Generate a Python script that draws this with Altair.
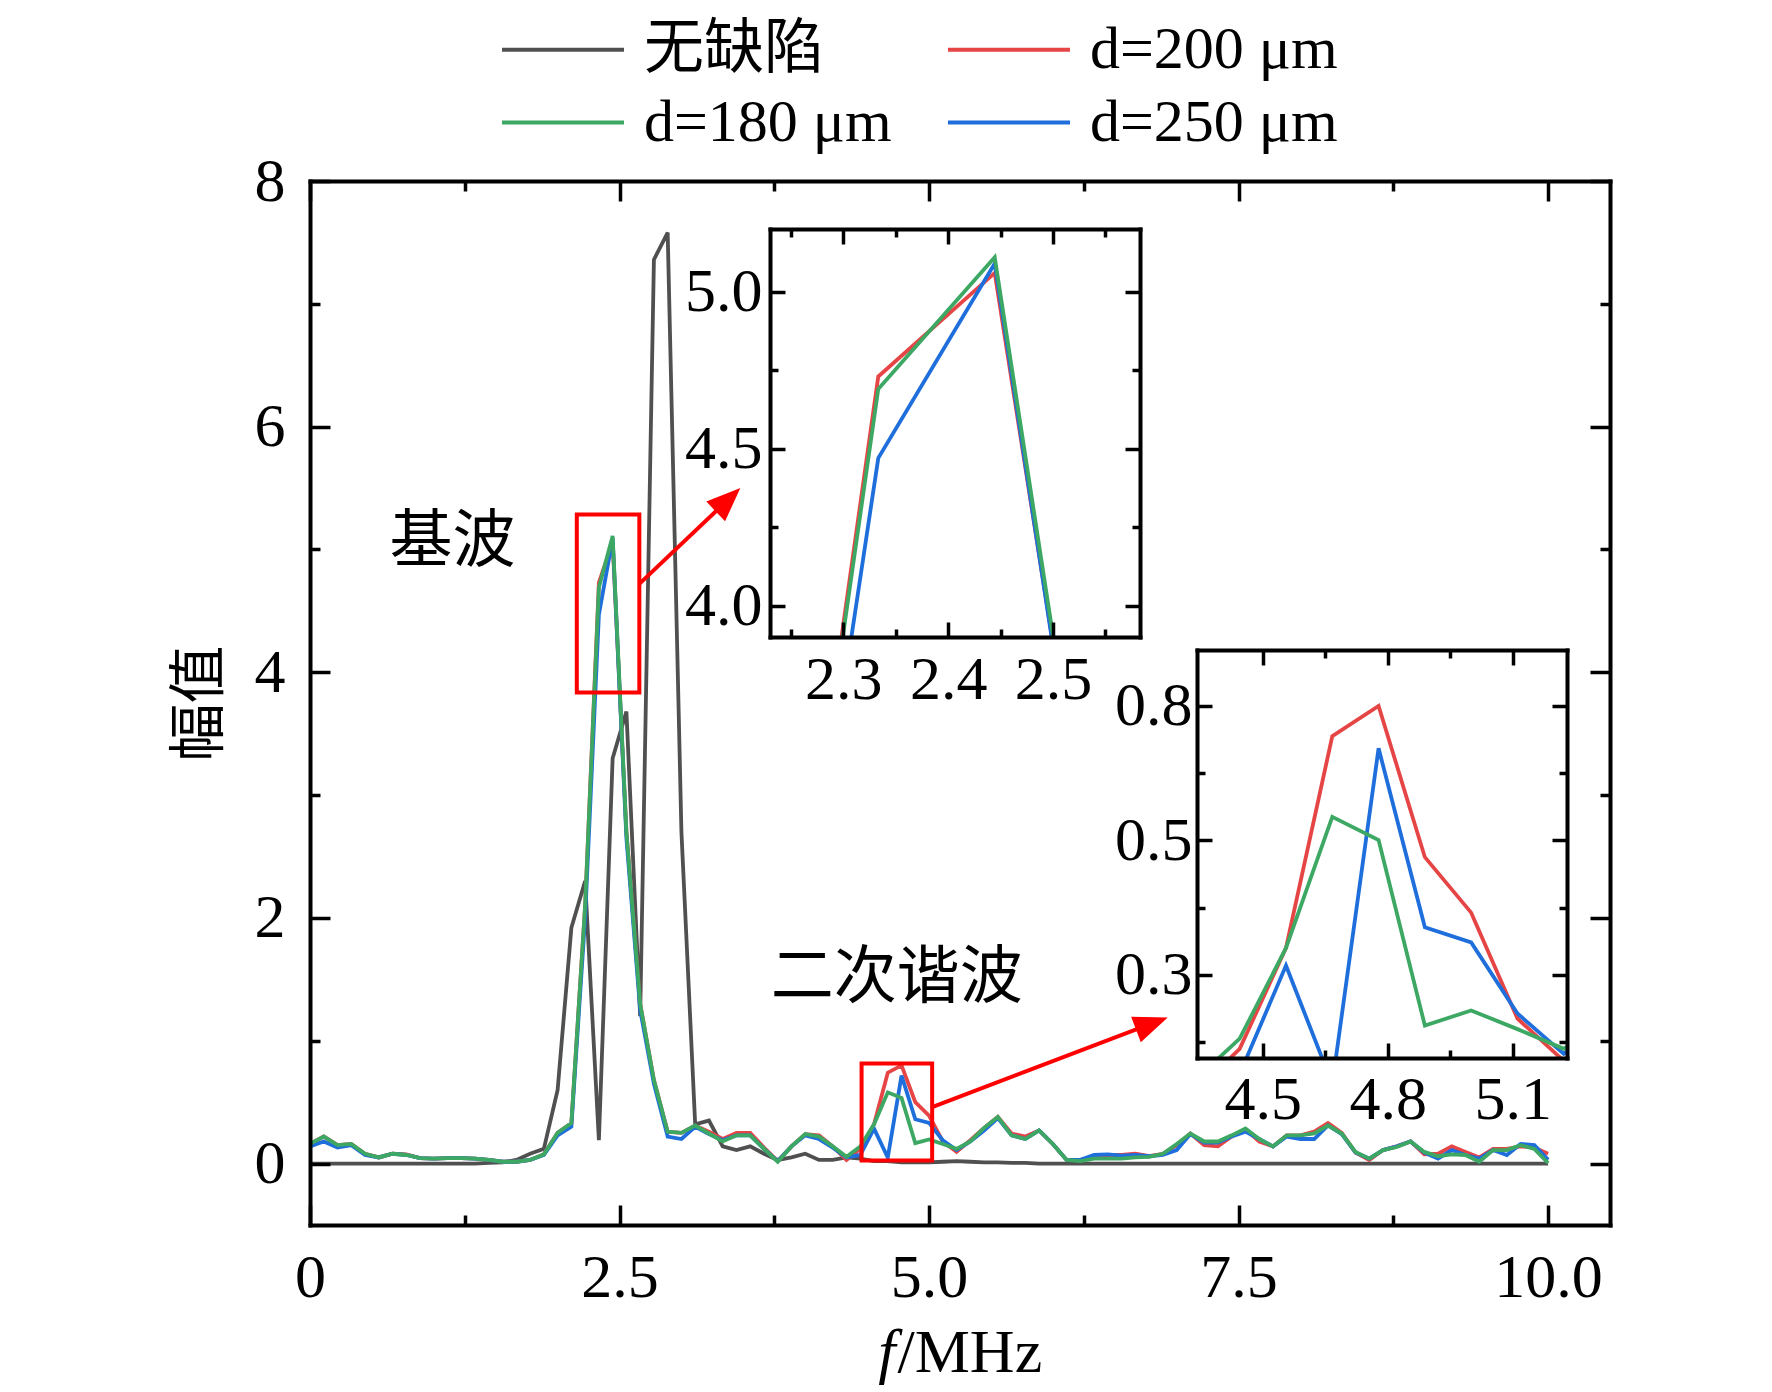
import math
import altair as alt
import pandas as pd

# ---------------- data ----------------
SERIES = ["无缺陷", "d=180 μm", "d=200 μm", "d=250 μm"]
COLORS = ["#505050", "#3DA864", "#E64545", "#1E6EDC"]

freq = [round(k / 9, 4) for k in range(91)]  # sample grid (MHz)

amp_none = [
    0, 0, 0, 0, 0, 0, 0, 0, 0, 0,
    0, 0, 0, 0.005, 0.01, 0.03, 0.08, 0.12, 0.6, 1.92,
    2.3, 0.19, 3.3, 3.68, 1.2, 7.36, 7.58, 2.7, 0.32, 0.35,
    0.14, 0.11, 0.14, 0.08, 0.03, 0.05, 0.08, 0.03, 0.03, 0.05,
    0.04, 0.02, 0.02, 0.01, 0.01, 0.01, 0.015, 0.02, 0.015, 0.01,
    0.01, 0.005, 0.005, 0, 0, 0, 0, 0, 0, 0,
    0, 0, 0, 0, 0, 0, 0, 0, 0, 0,
    0, 0, 0, 0, 0, 0, 0, 0, 0, 0,
    0, 0, 0, 0, 0, 0, 0, 0, 0, 0,
    0]
amp_200 = [
    0.16, 0.22, 0.15, 0.16, 0.08, 0.05, 0.08, 0.075, 0.045, 0.04,
    0.045, 0.045, 0.04, 0.03, 0.015, 0.015, 0.03, 0.075, 0.25, 0.33,
    2.1, 4.73, 5.06, 2.7, 1.3, 0.68, 0.26, 0.25, 0.31, 0.26,
    0.2, 0.25, 0.25, 0.13, 0.02, 0.14, 0.24, 0.23, 0.14, 0.03,
    0.12, 0.32, 0.74, 0.80, 0.50, 0.39, 0.18, 0.096, 0.19, 0.29,
    0.38, 0.245, 0.22, 0.27, 0.16, 0.03, 0.03, 0.05, 0.07, 0.07,
    0.08, 0.06, 0.08, 0.15, 0.245, 0.15, 0.14, 0.22, 0.28, 0.18,
    0.14, 0.23, 0.23, 0.26, 0.33, 0.25, 0.09, 0.03, 0.11, 0.14,
    0.18, 0.075, 0.08, 0.14, 0.095, 0.05, 0.12, 0.12, 0.14, 0.13,
    0.08]
amp_180 = [
    0.16, 0.22, 0.15, 0.16, 0.08, 0.05, 0.08, 0.07, 0.045, 0.04,
    0.045, 0.045, 0.04, 0.03, 0.015, 0.015, 0.03, 0.075, 0.25, 0.33,
    2.1, 4.69, 5.11, 2.7, 1.3, 0.68, 0.26, 0.25, 0.31, 0.245,
    0.18, 0.23, 0.23, 0.12, 0.015, 0.14, 0.24, 0.22, 0.14, 0.055,
    0.14, 0.32, 0.58, 0.534, 0.166, 0.196, 0.159, 0.12, 0.18, 0.29,
    0.38, 0.23, 0.2, 0.27, 0.16, 0.03, 0.02, 0.04, 0.04, 0.04,
    0.05, 0.055, 0.08, 0.16, 0.245, 0.18, 0.18, 0.23, 0.285, 0.2,
    0.14, 0.23, 0.23, 0.245, 0.31, 0.245, 0.095, 0.04, 0.11, 0.135,
    0.18, 0.095, 0.06, 0.075, 0.07, 0.015, 0.11, 0.11, 0.15, 0.12,
    0.005]
amp_250 = [
    0.14, 0.18, 0.13, 0.15, 0.07, 0.05, 0.08, 0.07, 0.045, 0.04,
    0.045, 0.045, 0.04, 0.03, 0.015, 0.015, 0.03, 0.07, 0.23, 0.30,
    2.0, 4.47, 5.09, 2.65, 1.25, 0.65, 0.22, 0.2, 0.3, 0.24,
    0.19, 0.23, 0.23, 0.12, 0.02, 0.14, 0.23, 0.2, 0.13, 0.05,
    0.07, 0.285, 0.05, 0.716, 0.361, 0.331, 0.19, 0.11, 0.18, 0.27,
    0.37, 0.23, 0.2, 0.27, 0.16, 0.03, 0.03, 0.07, 0.075, 0.065,
    0.07, 0.06, 0.07, 0.11, 0.24, 0.17, 0.17, 0.22, 0.26, 0.2,
    0.14, 0.22, 0.2, 0.2, 0.31, 0.24, 0.09, 0.04, 0.11, 0.14,
    0.18, 0.09, 0.04, 0.11, 0.07, 0.04, 0.11, 0.07, 0.16, 0.15,
    0.03]

# annotations (main-plot data coordinates)
ann_text = ["基波", "二次谐波"]
ann_x = [1.15, 4.74]
ann_y = [5.06, 1.515]
box_x = [2.155, 4.455]
box_x2 = [2.66, 5.025]
box_y = [3.835, 0.025]
box_y2 = [5.285, 0.815]
arrow_x = [2.66, 5.025]
arrow_y = [4.72, 0.46]
arrow_tip_x = [3.476, 6.928]
arrow_tip_y = [5.50, 1.19]

# ---------------- layout / style ----------------
W, H = 1300, 1044
SERIF = "Liberation Serif"
CJK = "Noto Sans CJK SC"
MIXED = "'Liberation Serif', 'Noto Sans CJK SC', serif"
RED = "#FF0000"
LW = 3.8

MAIN = dict(xdom=[0, 10.5], ydom=[-0.5, 8], L=0, T=0, R=W, B=H,
            xmaj=[0, 2.5, 5, 7.5, 10], xmin=[1.25, 3.75, 6.25, 8.75],
            ymaj=[0, 2, 4, 6, 8], ymin=[1, 3, 5, 7], tmaj=20, tmin=10,
            xpad=22, ypad=25)
INS1 = dict(xdom=[2.23, 2.583], ydom=[3.9, 5.2], L=460, T=48, R=830, B=456,
            xmaj=[2.3, 2.4, 2.5], xmin=[2.25, 2.35, 2.45, 2.55],
            ymaj=[4.0, 4.5, 5.0], ymin=[4.25, 4.75], tmaj=15, tmin=8,
            xpad=12, ypad=8)
INS2 = dict(xdom=[4.342, 5.23], ydom=[0.1017, 0.911], L=887, T=469, R=1257, B=877,
            xmaj=[4.5, 4.8, 5.1], xmin=[4.65, 4.95],
            ymaj=[0.8, 0.5333, 0.2667], ymin=[0.6667, 0.4, 0.1333], tmaj=15, tmin=8,
            xpad=11, ypad=5)


def sx(fr):
    return alt.Scale(domain=fr["xdom"], range=[fr["L"], fr["R"]], nice=False, zero=False)


def sy(fr):
    return alt.Scale(domain=fr["ydom"], range=[fr["B"], fr["T"]], nice=False, zero=False)


BASE = dict(grid=False, labelFlush=False, labelOverlap=False, domainColor="black",
            tickColor="black", labelColor="black", labelFont=SERIF, labelFontSize=62,
            zindex=3, tickWidth=3.5, domainWidth=4, domainCap="square")


def ax(**kw):
    d = dict(BASE)
    d.update(kw)
    if "title" not in d:
        d["title"] = None
    return alt.Axis(**d)


def frame_layers(fr, xlabel_kw, ylabel_kw, xtick_kw=None):
    xtick_kw = xtick_kw or {}
    xa = [
        ax(orient="bottom", offset=fr["B"] - H, values=fr["xmaj"], ticks=False, tickSize=0,
           domain=True, labels=True, labelPadding=fr["xpad"], **xlabel_kw),
        ax(orient="top", offset=-fr["B"], values=fr["xmaj"], tickSize=fr["tmaj"],
           domain=False, labels=False, **xtick_kw),
        ax(orient="top", offset=-fr["B"], values=fr["xmin"], tickSize=fr["tmin"],
           domain=False, labels=False),
        ax(orient="bottom", offset=fr["T"] - H, values=fr["xmaj"], tickSize=fr["tmaj"],
           domain=True, labels=False),
        ax(orient="bottom", offset=fr["T"] - H, values=fr["xmin"], tickSize=fr["tmin"],
           domain=False, labels=False),
    ]
    ya = [
        ax(orient="left", offset=-fr["L"], values=fr["ymaj"], ticks=False, tickSize=0,
           domain=True, labels=True, labelPadding=fr["ypad"], **ylabel_kw),
        ax(orient="right", offset=fr["L"] - W, values=fr["ymaj"], tickSize=fr["tmaj"],
           domain=False, labels=False),
        ax(orient="right", offset=fr["L"] - W, values=fr["ymin"], tickSize=fr["tmin"],
           domain=False, labels=False),
        ax(orient="left", offset=-fr["R"], values=fr["ymaj"], tickSize=fr["tmaj"],
           domain=True, labels=False),
        ax(orient="left", offset=-fr["R"], values=fr["ymin"], tickSize=fr["tmin"],
           domain=False, labels=False),
    ]
    dummy = pd.DataFrame({"x": fr["xdom"], "y": fr["ydom"]})
    out = []
    for a, b in zip(xa, ya):
        out.append(alt.Chart(dummy).mark_point(opacity=0).encode(
            x=alt.X("x:Q", scale=sx(fr), axis=a),
            y=alt.Y("y:Q", scale=sy(fr), axis=b)))
    return out


layers = []

# main frame + axes
layers += frame_layers(
    MAIN,
    dict(labelExpr="datum.value == 0 ? '0' : format(datum.value, '.1f')",
         title="/MHz", titleX=587, titleY=146, titleAlign="left", titleBaseline="alphabetic",
         titleFont=SERIF, titleFontSize=62, titleFontWeight="normal", titleColor="black"),
    dict(format="d", title="幅值", titleX=-110, titleY=H / 2, titleAngle=270,
         titleAlign="center", titleBaseline="middle", titleFont=CJK, titleFontSize=58,
         titleFontWeight="normal", titleColor="black"),
    dict(title="f", titleX=585, titleY=146, titleAlign="right", titleBaseline="alphabetic",
         titleFont=SERIF, titleFontSize=62, titleFontStyle="italic", titleFontWeight="normal",
         titleColor="black"),
)
layers += frame_layers(INS1, dict(format=".1f"), dict(format=".1f"))
layers += frame_layers(INS2, dict(format=".1f"), dict(format=".1f"))

series_vals = {
    "无缺陷": amp_none, "d=200 μm": amp_200, "d=180 μm": amp_180, "d=250 μm": amp_250,
}
draw_order = ["无缺陷", "d=200 μm", "d=250 μm", "d=180 μm"]
color_of = dict(zip(SERIES, COLORS))

# legend symbol: a 122-px line drawn as a custom path (size 3721 -> r = 30.5)
legend = alt.Legend(title=None, orient="none", legendX=190, legendY=-164, columns=2,
                    symbolType="M-1,0H3", symbolSize=3721, symbolStrokeWidth=LW,
                    labelFont=MIXED, labelFontSize=60, labelColor="black", labelOffset=79,
                    columnPadding=48, rowPadding=10, padding=0, labelLimit=1000)

for s in draw_order:
    df = pd.DataFrame({"f": freq, "v": series_vals[s], "series": s})
    layers.append(alt.Chart(df).mark_line(strokeWidth=LW).encode(
        x=alt.X("f:Q", scale=sx(MAIN), axis=None),
        y=alt.Y("v:Q", scale=sy(MAIN), axis=None),
        color=alt.Color("series:N", scale=alt.Scale(domain=SERIES, range=COLORS), legend=legend)))

# insets
for fr in (INS1, INS2):
    clip_path = "M{L},{T}H{R}V{B}H{L}Z".format(**fr)
    for s in draw_order:
        df = pd.DataFrame({"f": freq, "v": series_vals[s]})
        layers.append(alt.Chart(df).mark_line(
            strokeWidth=LW, color=color_of[s],
            clip=alt.ExprRef(expr="pathShape('%s')" % clip_path)).encode(
            x=alt.X("f:Q", scale=sx(fr), axis=None),
            y=alt.Y("v:Q", scale=sy(fr), axis=None)))

# red boxes
boxes = pd.DataFrame({"x": box_x, "x2": box_x2, "y": box_y, "y2": box_y2})
layers.append(alt.Chart(boxes).mark_rect(fillOpacity=0, stroke=RED, strokeWidth=4).encode(
    x=alt.X("x:Q", scale=sx(MAIN), axis=None), x2="x2:Q",
    y=alt.Y("y:Q", scale=sy(MAIN), axis=None), y2="y2:Q"))

# arrows
pxu_x = (MAIN["R"] - MAIN["L"]) / (MAIN["xdom"][1] - MAIN["xdom"][0])
pxu_y = (MAIN["B"] - MAIN["T"]) / (MAIN["ydom"][1] - MAIN["ydom"][0])
ends_x, ends_y, angs = [], [], []
for x0, y0, x1, y1 in zip(arrow_x, arrow_y, arrow_tip_x, arrow_tip_y):
    dxp = (x1 - x0) * pxu_x
    dyp = -(y1 - y0) * pxu_y
    L = math.hypot(dxp, dyp)
    ux, uy = dxp / L, dyp / L
    back = 14
    ends_x.append(x1 - back * ux / pxu_x)
    ends_y.append(y1 + back * uy / pxu_y)
    angs.append(math.degrees(math.atan2(dxp, -dyp)) % 360)

arr = pd.DataFrame({"x": arrow_x, "y": arrow_y, "x2": ends_x, "y2": ends_y,
                    "tx": arrow_tip_x, "ty": arrow_tip_y, "ang": angs})
layers.append(alt.Chart(arr).mark_rule(color=RED, strokeWidth=4).encode(
    x=alt.X("x:Q", scale=sx(MAIN), axis=None), x2="x2:Q",
    y=alt.Y("y:Q", scale=sy(MAIN), axis=None), y2="y2:Q"))
layers.append(alt.Chart(arr).mark_point(
    shape="M0,0L-0.8,2L0.8,2Z", size=1156, filled=True, color=RED, opacity=1).encode(
    x=alt.X("tx:Q", scale=sx(MAIN), axis=None),
    y=alt.Y("ty:Q", scale=sy(MAIN), axis=None),
    angle=alt.Angle("ang:Q", scale=None)))

# text labels
txt = pd.DataFrame({"x": ann_x, "y": ann_y, "t": ann_text})
layers.append(alt.Chart(txt).mark_text(font=CJK, fontSize=63, color="black",
                                       align="center", baseline="middle").encode(
    x=alt.X("x:Q", scale=sx(MAIN), axis=None),
    y=alt.Y("y:Q", scale=sy(MAIN), axis=None),
    text="t:N"))

chart = alt.layer(*layers).resolve_scale(
    x="independent", y="independent"
).resolve_axis(
    x="independent", y="independent"
).properties(
    width=W, height=H,
    autosize=alt.AutoSizeParams(type="none"),
    padding={"left": 302, "top": 173, "right": 152, "bottom": 160},
    background="white",
).configure_view(strokeWidth=0)

chart.save("out.html", embed_options={"renderer": "svg", "actions": False})
